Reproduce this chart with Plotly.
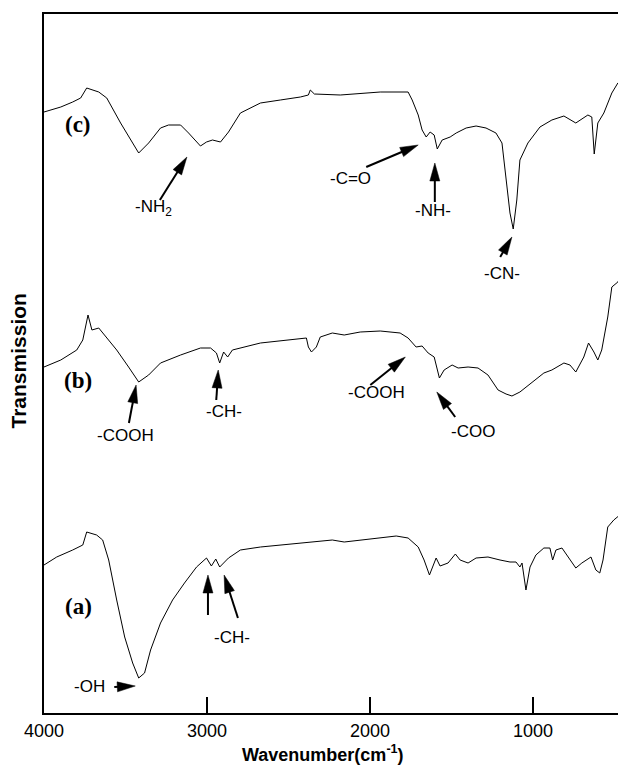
import math
import plotly.graph_objects as go

# ---- data (wavenumber in cm^-1, transmission in arbitrary offset units) ----
wn_c = [4000, 3897, 3824, 3775, 3738, 3664, 3615, 3530, 3456, 3419, 3358, 3285, 3236, 3162, 3113, 3040,
        3003, 2966, 2917, 2868, 2795, 2672, 2550, 2427, 2378, 2366, 2341, 2182, 1937, 1766, 1741, 1704,
        1680, 1655, 1631, 1606, 1587, 1557, 1508, 1471, 1410, 1349, 1288, 1227, 1190, 1165, 1141, 1121,
        1099, 1080, 1031, 957, 884, 810, 737, 663, 639, 624, 602, 565, 516, 479, 443, 430]
t_c = [601, 606, 611, 615, 625, 621, 615, 590, 570, 560, 570, 585, 588, 588, 580, 567,
       571, 573, 571, 581, 600, 610, 613, 616, 618, 623, 619, 618, 621, 621, 613, 598,
       583, 576, 581, 578, 564, 573, 576, 580, 585, 587, 585, 580, 570, 536, 500, 484,
       513, 553, 570, 586, 593, 597, 590, 598, 596, 559, 590, 600, 620, 630, 633, 646]

wn_b = [4000, 3897, 3799, 3762, 3730, 3706, 3664, 3628, 3554, 3481, 3419, 3358, 3285, 3162, 3040, 2978,
        2942, 2922, 2898, 2873, 2844, 2672, 2550, 2390, 2378, 2359, 2329, 2305, 2231, 2158, 2060, 1937,
        1815, 1766, 1717, 1680, 1643, 1606, 1574, 1545, 1496, 1459, 1398, 1337, 1276, 1214, 1165, 1129,
        1080, 1006, 933, 884, 810, 773, 737, 688, 659, 626, 602, 578, 541, 516, 479, 455, 430]
t_b = [346, 353, 363, 373, 398, 383, 385, 378, 363, 346, 331, 338, 350, 358, 365, 365,
       360, 350, 361, 356, 363, 370, 372, 375, 366, 361, 366, 376, 380, 378, 381, 382,
       380, 375, 366, 367, 360, 356, 335, 343, 348, 345, 346, 345, 338, 323, 319, 317,
       321, 331, 340, 343, 350, 348, 341, 356, 370, 361, 353, 363, 396, 426, 431, 438, 456]

wn_a = [4000, 3922, 3824, 3762, 3738, 3677, 3640, 3603, 3554, 3505, 3456, 3419, 3383, 3346, 3285, 3211,
        3138, 3064, 3003, 2973, 2946, 2922, 2868, 2795, 2672, 2427, 2231, 2158, 2060, 1937, 1839, 1766,
        1704, 1668, 1635, 1594, 1570, 1521, 1476, 1447, 1398, 1349, 1276, 1202, 1141, 1104, 1080, 1067,
        1043, 1018, 982, 933, 896, 879, 859, 822, 786, 737, 700, 644, 614, 590, 570, 541, 504, 467, 430]
t_a = [148, 156, 163, 168, 181, 178, 173, 153, 113, 76, 50, 35, 40, 63, 90, 113,
       130, 146, 155, 147, 154, 146, 155, 163, 166, 170, 173, 171, 173, 175, 177, 175,
       166, 153, 138, 155, 147, 150, 159, 153, 150, 155, 156, 153, 151, 151, 146, 150,
       123, 146, 158, 165, 165, 153, 163, 165, 156, 145, 150, 156, 143, 140, 153, 186, 193, 198, 203]

x_ticks = [4000, 3000, 2000, 1000]
x_tick_labels = ["4000", "3000", "2000", "1000"]

# annotation arrows: (tail_wn, tail_t, head_wn, head_t)
arrows = [
    (3289, 513, 3123, 556),   # -NH2
    (2023, 546, 1704, 568),   # -C=O
    (1602, 511, 1602, 550),   # -NH-
    (1201, 456, 1129, 476),   # -CN-
    (3479, 290, 3435, 328),   # -COOH
    (2943, 313, 2931, 343),   # -CH-
    (1998, 328, 1783, 356),   # -COOH
    (1477, 296, 1590, 321),   # -COO
    (3569, 26, 3440, 27),     # -OH
    (2994, 98, 2994, 138),    # -CH- (1)
    (2810, 95, 2895, 138),    # -CH- (2)
]
labels = [
    ("-NH<sub>2</sub>", 3330, 505),
    ("-C=O", 2121, 535),
    ("-NH-", 1611, 503),
    ("-CN-", 1188, 440),
    ("-COOH", 3503, 278),
    ("-CH-", 2894, 302),
    ("-COOH", 1961, 321),
    ("-COO", 1366, 282),
    ("-OH", 3722, 27),
    ("-CH-", 2845, 76),
]
curve_labels = [("(c)", 3789, 589), ("(b)", 3789, 333), ("(a)", 3789, 107)]

# ---- layout geometry ----
X_RANGE = [4000, 380]
Y_RANGE = [0, 699]
FIG_W, FIG_H = 626, 767
MARGIN = dict(l=36, r=0, t=6, b=62)
plot_w = FIG_W - MARGIN["l"] - MARGIN["r"]
plot_h = FIG_H - MARGIN["t"] - MARGIN["b"]
kx = plot_w / abs(X_RANGE[0] - X_RANGE[1])   # px per cm^-1 (reversed axis)
ky = plot_h / (Y_RANGE[1] - Y_RANGE[0])      # px per unit

HEAD_L, HEAD_W = 18, 10

fig = go.Figure()
for wn, t in [(wn_c, t_c), (wn_b, t_b), (wn_a, t_a)]:
    fig.add_trace(go.Scatter(x=wn, y=t, mode="lines",
                             line=dict(color="black", width=1), hoverinfo="skip"))


def to_px(w, t):
    return (-w * kx, t * ky)


def to_data(px, py):
    return (-px / kx, py / ky)


for tx, ty, hx, hy in arrows:
    tpx, tpy = to_px(tx, ty)
    hpx, hpy = to_px(hx, hy)
    dx, dy = hpx - tpx, hpy - tpy
    n = math.hypot(dx, dy)
    ux, uy = dx / n, dy / n
    bx, by = hpx - HEAD_L * ux, hpy - HEAD_L * uy
    nx, ny = -uy, ux
    p1 = to_data(bx + nx * HEAD_W / 2, by + ny * HEAD_W / 2)
    p2 = to_data(bx - nx * HEAD_W / 2, by - ny * HEAD_W / 2)
    base = to_data(bx + ux * 2, by + uy * 2)
    fig.add_trace(go.Scatter(x=[tx, base[0]], y=[ty, base[1]], mode="lines",
                             line=dict(color="black", width=2), hoverinfo="skip"))
    fig.add_trace(go.Scatter(x=[hx, p1[0], p2[0], hx], y=[hy, p1[1], p2[1], hy], mode="lines",
                             fill="toself", fillcolor="black",
                             line=dict(color="black", width=0.5), hoverinfo="skip"))

annotations = []
for txt, x, y in labels:
    annotations.append(dict(text=txt, x=x, y=y, xref="x", yref="y", showarrow=False,
                            font=dict(family="Liberation Sans, Arial", size=17, color="black")))
for txt, x, y in curve_labels:
    annotations.append(dict(text="<b>" + txt + "</b>", x=x, y=y, xref="x", yref="y", showarrow=False,
                            font=dict(family="Liberation Serif, Times New Roman", size=23, color="black")))

annotations.append(dict(text="<b>Wavenumber(cm<sup>-1</sup>)</b>", x=(323 - 44) / plot_w, y=(713 - 753) / plot_h,
                        xref="paper", yref="paper", showarrow=False, yanchor="middle",
                        font=dict(family="Liberation Sans, Arial", size=18, color="black")))
annotations.append(dict(text="<b>Transmission</b>", x=(17.5 - 44) / plot_w, y=(713 - 361) / plot_h,
                        xref="paper", yref="paper", showarrow=False, textangle=-90,
                        xanchor="center", yanchor="middle",
                        font=dict(family="Liberation Sans, Arial", size=21, color="black")))

fig.update_layout(
    width=FIG_W, height=FIG_H,
    margin=MARGIN,
    paper_bgcolor="white", plot_bgcolor="white",
    showlegend=False,
    annotations=annotations,
    xaxis=dict(range=X_RANGE, tickvals=x_ticks, ticktext=x_tick_labels,
               ticks="inside", ticklen=16, tickwidth=2, tickcolor="black",
               showline=True, linewidth=2, linecolor="black", mirror=True,
               showgrid=False, zeroline=False,
               tickfont=dict(family="Liberation Sans, Arial", size=18, color="black")),
    yaxis=dict(range=Y_RANGE, showticklabels=False, ticks="", showgrid=False, zeroline=False,
               showline=True, linewidth=2, linecolor="black"),
)

fig.write_html("out.html")
